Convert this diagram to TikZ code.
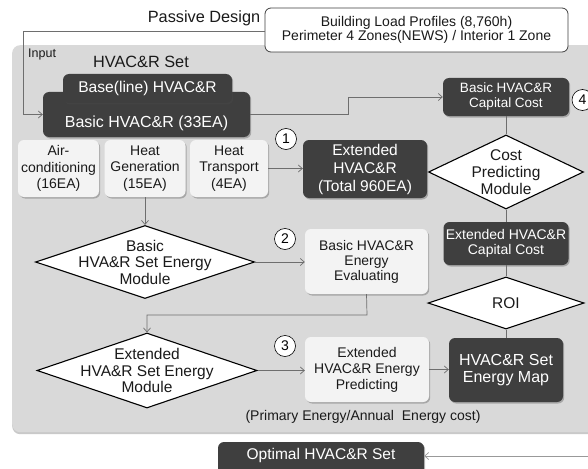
\documentclass[tikz,border=0pt]{standalone}
\usepackage{fontspec}
\setmainfont{Liberation Sans}
\usetikzlibrary{shapes.geometric, arrows.meta, shadows}
\definecolor{panelgray}{HTML}{D9D9D9}
\definecolor{darkbox}{HTML}{3F3F3F}
\definecolor{lightbox}{HTML}{F3F3F3}
\definecolor{linegray}{HTML}{6E6E6E}
\definecolor{txtgray}{HTML}{1A1A1A}
\newcommand\myfs[2]{\fontsize{#1}{#2}\selectfont}
\tikzset{
  sh/.style={drop shadow={shadow xshift=1.2pt, shadow yshift=-1.5pt, opacity=0.35, fill=black!70}},
  dark/.style={fill=darkbox, text=white, rounded corners=6pt, inner sep=0pt, align=center, sh},
  light/.style={fill=lightbox, text=txtgray, rounded corners=6pt, inner sep=0pt, align=center, sh},
  dia/.style={diamond, draw=black, line width=1.1pt, fill=white, inner sep=0pt},
  num/.style={circle, draw=black, fill=white, line width=0.6pt, minimum size=21pt, inner sep=0pt, font=\myfs{14}{14}},
  arr/.style={draw=linegray, line width=0.7pt, -{Straight Barb[length=4pt,width=7pt]}},
  ln/.style={draw=linegray, line width=0.7pt},
  txt/.style={inner sep=0pt, align=center, text=txtgray}
}
\begin{document}
\begin{tikzpicture}[x=1pt,y=-1pt]
\useasboundingbox (0,0) rectangle (588,468);
\clip (0,0) rectangle (588,468);
\fill[white] (0,0) rectangle (588,468);
% panel
\node[fill=panelgray, rounded corners=8pt, minimum width=600pt, minimum height=387pt, anchor=north west, inner sep=0pt,
  drop shadow={shadow xshift=0pt, shadow yshift=-2pt, opacity=0.35, fill=black!60}] (panel) at (12,45) {};
% top
\node[txt, font=\myfs{16.3}{18}] (pd) at (204,18) {Passive Design};
\node[draw=black!75, line width=0.8pt, fill=white, text=txtgray, rounded corners=6pt, minimum width=303pt, minimum height=44pt, inner sep=0pt, align=center, font=\myfs{14}{14.5}] (load) at (416.5,30) {Building Load Profiles (8,760h)\\Perimeter 4 Zones(NEWS) / Interior 1 Zone};
\node[txt, font=\myfs{12.5}{13}, anchor=west] (input) at (28,54) {Input};
\node[txt, font=\myfs{16.3}{18}] (setlbl) at (141,62) {HVAC\&R Set};
% basic and base (base in front)
\node[dark, minimum width=207pt, minimum height=45pt] (basic) at (146.5,114.5) {};
\node[txt, text=white, font=\myfs{16}{17}] (basict) at (146.5,123) {Basic HVAC\&R (33EA)};
\node[dark, minimum width=169pt, minimum height=29pt, font=\myfs{15.6}{17}] (base) at (147.5,88.5) {Base(line) HVAC\&R};
\coordinate (inTL) at (23,31);
\draw[arr] (load.west |- inTL) -- (inTL) |- (basic.west);
% basic capital cost
\node[dark, minimum width=126pt, minimum height=38pt, font=\myfs{13.5}{15}] (capb) at (506,97) {Basic HVAC\&R\\Capital Cost};
\node[num] (n4) at (582.5,100) {4};
\coordinate (b1) at (348,114.5);
\draw[arr] (basic.east) -- (b1) |- (capb.west);
% component boxes
\node[light, minimum width=81pt, minimum height=57pt, font=\myfs{14}{16.5}] (air) at (58.5,168.5) {Air-\\conditioning\\(16EA)};
\node[light, minimum width=81pt, minimum height=57pt, font=\myfs{14}{16.5}] (gen) at (145,168.5) {Heat\\Generation\\(15EA)};
\node[light, minimum width=78pt, minimum height=57pt, font=\myfs{14}{16.5}] (trans) at (229,168.5) {Heat\\Transport\\(4EA)};
\node[dark, minimum width=124pt, minimum height=58pt, font=\myfs{15.5}{18}] (ext) at (365,169) {Extended\\HVAC\&R\\(Total 960EA)};
\node[num] (n1) at (286,139) {1};
\draw[arr] (trans.east) -- (trans.east -| ext.west);
% cost column
\node[dia, minimum width=155pt, minimum height=74pt] (cpm) at (506,172) {};
\node[txt, font=\myfs{15.5}{17}] (cpmt) at (506,172) {Cost\\Predicting\\Module};
\node[dark, minimum width=125pt, minimum height=43pt, font=\myfs{14}{15}] (capx) at (506,243.5) {Extended HVAC\&R\\Capital Cost};
\node[dia, minimum width=156pt, minimum height=52pt] (roi) at (506,303) {};
\node[txt, font=\myfs{15.5}{17}] (roit) at (506,303) {ROI};
\node[dark, minimum width=114pt, minimum height=64pt, font=\myfs{16}{17}] (map) at (506,370) {HVAC\&R Set\\Energy Map};
\draw[ln] (capb.south) -- (cpm.north);
\draw[ln] (cpm.south) -- (capx.north);
\draw[ln] (capx.south) -- (roi.north);
\draw[ln] (roi.south) -- (map.north);
% basic energy module
\node[dia, minimum width=219pt, minimum height=73pt] (bdia) at (145,262) {};
\node[txt, font=\myfs{15.5}{16.5}] (bdiat) at (145,262) {Basic\\HVA\&R Set Energy\\Module};
\draw[arr] (gen.south) -- (gen.south |- bdia.north);
\node[num] (n2) at (285,239) {2};
\node[light, minimum width=123pt, minimum height=65pt, font=\myfs{13.9}{15}] (eval) at (366.5,261.5) {Basic HVAC\&R\\Energy\\Evaluating};
\draw[arr] (bdia.east) -- (bdia.east -| eval.west);
% extended energy module
\node[dia, minimum width=220pt, minimum height=75pt] (edia) at (147,370.5) {};
\node[txt, font=\myfs{15.5}{16.5}] (ediat) at (147,370.5) {Extended\\HVA\&R Set Energy\\Module};
\coordinate (e1) at (367,315);
\draw[arr] (eval.south) -- (e1) -| (edia.north);
\node[num] (n3) at (285,346) {3};
\node[light, minimum width=124pt, minimum height=65pt, font=\myfs{14}{16}] (pred) at (367,369.5) {Extended\\HVAC\&R Energy\\Predicting};
\draw[arr] (edia.east) -- (edia.east -| pred.west);
\draw[arr] (pred.east) -- (pred.east -| map.west);
\node[txt, font=\myfs{14}{15}] (prim) at (363,417) {(Primary Energy/Annual\ \ Energy cost)};
% optimal
\node[dark, minimum width=206pt, minimum height=40pt] (opt) at (321,462) {};
\node[txt, text=white, font=\myfs{15.5}{17}] (optt) at (321,455.5) {Optimal HVAC\&R Set};
\coordinate (optR) at (600,456);
\draw[arr, draw=black!40] (optR) -- (optR -| opt.east);
\end{tikzpicture}
\end{document}
